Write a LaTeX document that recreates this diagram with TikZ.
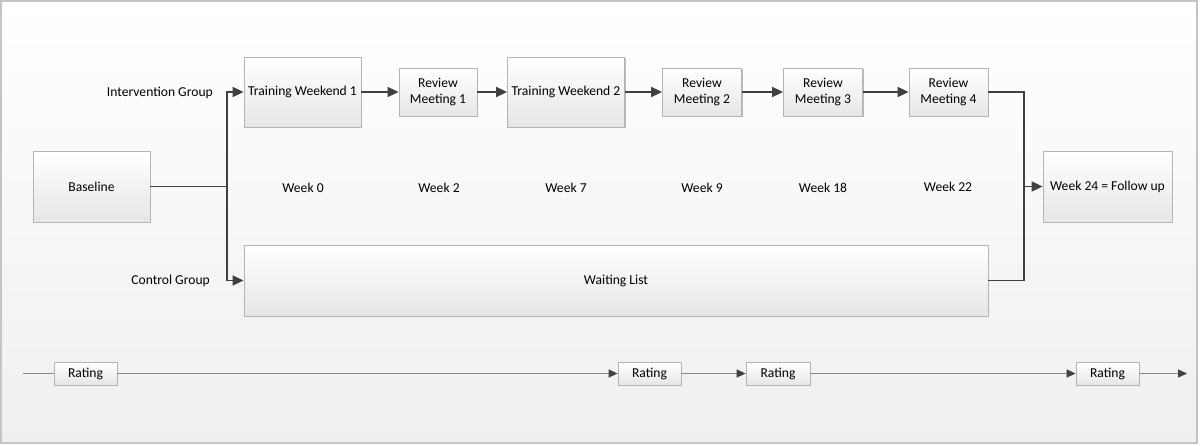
\documentclass[tikz,border=0pt]{standalone}
\usepackage{fontspec}
\setmainfont{Carlito}
\usetikzlibrary{arrows.meta,shadows}
\definecolor{boxline}{HTML}{B4B4B4}
\definecolor{boxbot}{HTML}{E6E6E6}
\definecolor{flow}{HTML}{404040}
\definecolor{rateline}{HTML}{888888}
\definecolor{bgbot}{HTML}{EFEFEF}
\definecolor{frameline}{HTML}{C4C4C4}
\tikzset{
  pbox/.style={draw=boxline, line width=0.8pt, top color=white, bottom color=boxbot,
    drop shadow={shadow xshift=1.2pt, shadow yshift=-1.2pt, opacity=0.25, fill=black},
    inner sep=0pt, align=center, font=\fontsize{13.6}{16}\selectfont},
  lbl/.style={inner sep=0pt, font=\fontsize{13.6}{16}\selectfont},
  flowline/.style={draw=flow, line width=1.7pt},
  flowarrow/.style={flowline, -{Triangle[length=11pt,width=10pt]}},
  rline/.style={draw=rateline, line width=1.3pt},
  rarrow/.style={rline, -{Triangle[length=9pt,width=8pt,color=flow]}},
}
\begin{document}
\begin{tikzpicture}[x=1pt,y=-1pt]
\useasboundingbox (0,0) rectangle (1200,445);
\fill[white] (0,0) rectangle (1200,445);
\shade[top color=white, bottom color=bgbot] (1,1) rectangle (1197,443);
\draw[frameline, line width=1.4pt] (1,1) rectangle (1197,443);

% boxes
\node[pbox, minimum width=117pt, minimum height=71pt] (base) at (91.5,186.5) {Baseline};
\node[pbox, minimum width=117pt, minimum height=70pt] (tw1) at (302.5,92) {Training Weekend 1};
\node[pbox, minimum width=78pt, minimum height=48pt] (rm1) at (438,92) {Review\\Meeting 1};
\node[pbox, minimum width=117pt, minimum height=70pt] (tw2) at (566,92) {Training Weekend 2};
\node[pbox, minimum width=79pt, minimum height=48pt] (rm2) at (702,92) {Review\\Meeting 2};
\node[pbox, minimum width=79pt, minimum height=48pt] (rm3) at (823,92) {Review\\Meeting 3};
\node[pbox, minimum width=79pt, minimum height=48pt] (rm4) at (948.5,92) {Review\\Meeting 4};
\node[pbox, minimum width=129pt, minimum height=71pt] (fu) at (1107.5,186.5) {Week 24 = Follow up};
\node[pbox, minimum width=744pt, minimum height=71pt] (wl) at (616,280.5) {Waiting List};

% labels
\node[lbl, anchor=east] (ig) at (213,93) {Intervention Group};
\node[lbl, anchor=east] (cg) at (210,281) {Control Group};
\node[lbl] (w0) at (303,188) {Week 0};
\node[lbl] (w2) at (439,188) {Week 2};
\node[lbl] (w7) at (566,188) {Week 7};
\node[lbl] (w9) at (702,188) {Week 9};
\node[lbl] (w18) at (823,188) {Week 18};
\node[lbl] (w22) at (948,187) {Week 22};

% flow connectors
\coordinate (split) at (227,186.5);
\coordinate (join) at (1024,186.5);
\draw[flowline] (base.east) -- (split);
\draw[flowarrow] (split) |- (tw1.west);
\draw[flowarrow] (split) |- (wl.west);
\draw[flowarrow] (tw1) -- (rm1);
\draw[flowarrow] (rm1) -- (tw2);
\draw[flowarrow] (tw2) -- (rm2);
\draw[flowarrow] (rm2) -- (rm3);
\draw[flowarrow] (rm3) -- (rm4);
\draw[flowline] (rm4.east) -| (join);
\draw[flowline] (wl.east) -| (join);
\draw[flowarrow] (join) -- (fu.west);

% rating row
\node[pbox, minimum width=63pt, minimum height=23pt] (r1) at (85.5,373.5) {Rating};
\node[pbox, minimum width=63pt, minimum height=23pt] (r2) at (649.5,373.5) {Rating};
\node[pbox, minimum width=64pt, minimum height=23pt] (r3) at (778,373.5) {Rating};
\node[pbox, minimum width=63pt, minimum height=23pt] (r4) at (1107.5,373.5) {Rating};
\coordinate (rstart) at (23,373.5);
\coordinate (rend) at (1187,373.5);
\draw[rline] (rstart) -- (r1);
\draw[rarrow] (r1) -- (r2);
\draw[rarrow] (r2) -- (r3);
\draw[rarrow] (r3) -- (r4);
\draw[rarrow] (r4) -- (rend);
\end{tikzpicture}
\end{document}
